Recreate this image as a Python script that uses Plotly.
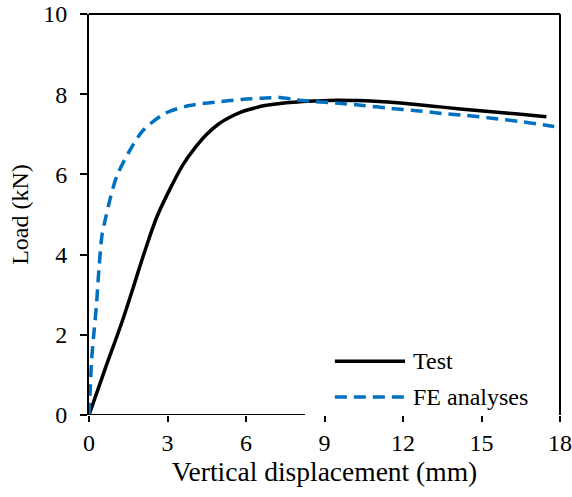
import plotly.graph_objects as go

# Data
test_x = [0, 0.6, 1.25, 1.7, 2.1, 2.6, 3.16, 3.6, 4.05, 4.5, 4.94, 5.4, 5.83, 6.3, 6.72,
          7.3, 7.8, 8.6, 9.45, 10.3, 11.24, 12.2, 13.15, 14.1, 15.06, 16.3, 17.48]
test_y = [0, 1.12, 2.30, 3.2, 4.02, 4.95, 5.72, 6.25, 6.66, 7.0, 7.25, 7.43, 7.56, 7.65, 7.72,
          7.77, 7.80, 7.83, 7.85, 7.84, 7.81, 7.76, 7.70, 7.64, 7.58, 7.51, 7.44]

fe_x = [0, 0.05, 0.1, 0.2, 0.29, 0.36, 0.5, 0.65, 0.8, 1.06, 1.5, 2.07, 2.9, 3.79, 4.81,
        5.83, 6.6, 7.3, 7.9, 8.56, 9.45, 10.47, 11.5, 12.5, 13.5, 14.4, 15.4, 16.45, 17.34, 18.0]
fe_y = [0, 0.7, 1.38, 2.13, 2.78, 3.46, 4.5, 4.95, 5.37, 5.95, 6.53, 7.1, 7.52, 7.71, 7.80,
        7.87, 7.90, 7.92, 7.86, 7.82, 7.78, 7.72, 7.65, 7.59, 7.52, 7.47, 7.40, 7.32, 7.24, 7.17]

x_ticks = [0, 3, 6, 9, 12, 15, 18]
y_ticks = [0, 2, 4, 6, 8, 10]
series_names = ["Test", "FE analyses"]

FONT = "Liberation Serif, Times New Roman, Times, serif"
BLUE = "#0070C0"

fig = go.Figure()
fig.add_trace(go.Scatter(x=test_x, y=test_y, mode="lines", name=series_names[0],
                         line=dict(color="black", width=3.5, shape="spline", smoothing=1.0),
                         showlegend=False))
fig.add_trace(go.Scatter(x=fe_x, y=fe_y, mode="lines", name=series_names[1],
                         line=dict(color=BLUE, width=3.5, dash="12px,7px", shape="spline", smoothing=0.8),
                         showlegend=False))

fig.update_layout(
    width=572, height=497,
    margin=dict(l=89, r=12, t=14, b=82),
    paper_bgcolor="white", plot_bgcolor="white",
    font=dict(family=FONT, color="black", size=24),
    xaxis=dict(range=[0, 18], tickvals=x_ticks, ticks="outside", ticklen=6, tickwidth=1.5,
               tickcolor="black", showline=False, showgrid=False, zeroline=False,
               automargin=False,
               title=dict(text="Vertical displacement (mm)", font=dict(size=27.5), standoff=6),
               tickfont=dict(size=24)),
    yaxis=dict(range=[0, 10], tickvals=y_ticks, ticks="outside", ticklen=7, tickwidth=1.5,
               tickcolor="black", showline=True, linecolor="black", linewidth=2,
               showgrid=False, zeroline=False, automargin=False, ticklabelstandoff=8,
               title=dict(text="Load (kN)", font=dict(size=24), standoff=8),
               tickfont=dict(size=24)),
)

# Frame lines (top, right, partial bottom as in reference)
fig.add_shape(type="line", xref="paper", yref="paper", x0=0, x1=1, y0=1, y1=1,
              line=dict(color="black", width=2))
fig.add_shape(type="line", xref="paper", yref="paper", x0=1, x1=1, y0=0, y1=1,
              line=dict(color="black", width=2))
fig.add_shape(type="line", xref="x", yref="y", x0=0, x1=8.25, y0=0, y1=0,
              line=dict(color="black", width=2))

# Manual legend
leg = [(0.134, "black", "solid", series_names[0]), (0.045, BLUE, "12px,7px", series_names[1])]
for yy, col, dash, name in leg:
    fig.add_shape(type="line", xref="paper", yref="paper", x0=0.522, x1=0.671, y0=yy, y1=yy,
                  line=dict(color=col, width=3.5, dash=dash))
    fig.add_annotation(xref="paper", yref="paper", x=0.683, y=yy, text=name, showarrow=False,
                       xanchor="left", yanchor="middle", font=dict(size=24, family=FONT))

fig.write_html("out.html", config={"displayModeBar": False},
               post_script="document.body.style.margin='0';document.body.style.padding='0';")
